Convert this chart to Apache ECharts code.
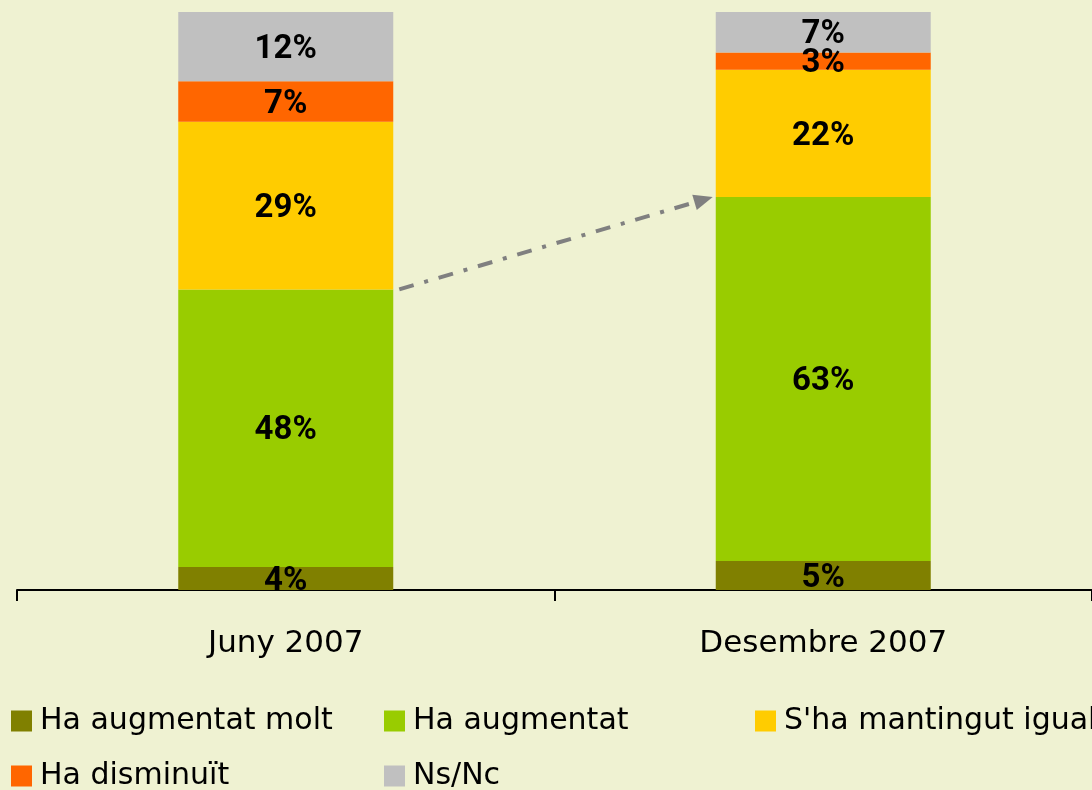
<!DOCTYPE html>
<html>
<head>
<meta charset="utf-8">
<script src="https://cdn.jsdelivr.net/npm/echarts@6/dist/echarts.min.js"></script>
<style>
html,body{margin:0;padding:0;background:#EFF2D2;}
#main{width:1092px;height:790px;}
</style>
</head>
<body>
<div id="main"></div>
<script>
const categories = ['Juny 2007', 'Desembre 2007'];
const seriesNames = ['Ha augmentat molt', 'Ha augmentat', "S'ha mantingut igual", 'Ha disminuït', 'Ns/Nc'];
const haAugmentatMolt = [4, 5];
const haAugmentat = [48, 63];
const shaMantingutIgual = [29, 22];
const haDisminuit = [7, 3];
const nsNc = [12, 7];
const colors = ['#808000', '#99CC00', '#FFCC00', '#FF6600', '#C0C0C0'];

const values = [haAugmentatMolt, haAugmentat, shaMantingutIgual, haDisminuit, nsNc];
const BAR_W = 215;

const chart = echarts.init(document.getElementById('main'));

const series = values.map((v, i) => ({
  name: seriesNames[i],
  type: 'bar',
  stack: 'total',
  barWidth: BAR_W,
  data: v,
  itemStyle: { color: colors[i] },
  label: {
    show: true,
    position: 'inside',
    offset: [0, 3],
    formatter: '{c}%',
    color: '#000',
    fontFamily: 'Roboto',
    fontWeight: 'bold',
    fontSize: 33
  },
  emphasis: { disabled: true }
}));

const legendFont = { fontFamily: 'DejaVu Sans', fontSize: 30, color: '#000', padding: [0, 0, 0, 3] };
const legendPos = [
  { left: 11, top: 706 },
  { left: 384, top: 706 },
  { left: 755, top: 706 },
  { left: 11, top: 761 },
  { left: 384, top: 761 }
];
const legends = seriesNames.map((n, i) => ({
  data: [n],
  left: legendPos[i].left,
  top: legendPos[i].top,
  padding: 0,
  itemWidth: 21,
  itemHeight: 21,
  icon: 'rect',
  selectedMode: false,
  textStyle: legendFont
}));

chart.setOption({
  backgroundColor: '#EFF2D2',
  animation: false,
  legend: legends,
  grid: { left: 17, top: 12, width: 1076, height: 578, containLabel: false },
  xAxis: {
    type: 'category',
    data: categories,
    axisLine: { lineStyle: { color: '#000', width: 2 } },
    axisTick: { show: true, length: 11, lineStyle: { color: '#000', width: 2 } },
    axisLabel: { fontFamily: 'DejaVu Sans', fontSize: 31, color: '#000', margin: 38 }
  },
  yAxis: {
    type: 'value',
    min: 0,
    max: 100,
    show: false,
    splitLine: { show: false }
  },
  series: series
});

// Arrow from top of "Ha augmentat" (Juny) to top of "Ha augmentat" (Desembre)
function top2(idx) { return haAugmentatMolt[idx] + haAugmentat[idx]; }
const p0 = chart.convertToPixel({ gridIndex: 0 }, [categories[0], top2(0)]);
const p1 = chart.convertToPixel({ gridIndex: 0 }, [categories[1], top2(1)]);
const x0 = p0[0] + BAR_W / 2 + 6, y0 = p0[1];
const x1 = p1[0] - BAR_W / 2 - 3, y1 = p1[1];
const ang = Math.atan2(y1 - y0, x1 - x0);
const headL = 19, headW = 8;
const bx = x1 - headL * Math.cos(ang), by = y1 - headL * Math.sin(ang);
const nx = -Math.sin(ang), ny = Math.cos(ang);
chart.setOption({
  graphic: [
    {
      type: 'line',
      shape: { x1: x0, y1: y0, x2: bx, y2: by },
      style: { stroke: '#808080', lineWidth: 4, lineDash: [15, 11, 4, 11] },
      silent: true
    },
    {
      type: 'polygon',
      shape: { points: [[x1, y1], [bx + nx * headW, by + ny * headW], [bx - nx * headW, by - ny * headW]] },
      style: { fill: '#808080' },
      silent: true
    }
  ]
});
</script>
</body>
</html>
